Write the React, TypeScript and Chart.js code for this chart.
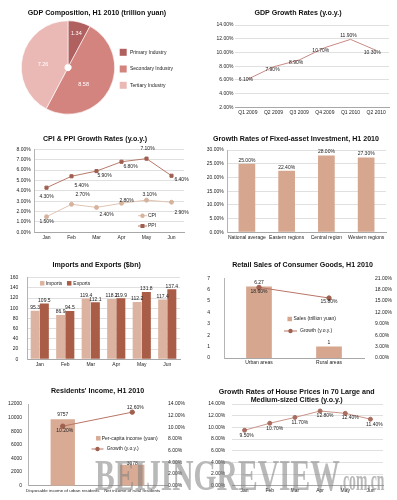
import React, { useEffect, useRef } from "react";
import { Chart, registerables } from "chart.js";

Chart.register(...registerables);

// ---------------- data ----------------
const gdpSectors = ["Primary Industry", "Secondary Industry", "Tertiary Industry"];
const gdpSectorValues = [1.34, 8.58, 7.26];

const gdpQuarters = ["Q1 2009", "Q2 2009", "Q3 2009", "Q4 2009", "Q1 2010", "Q2 2010"];
const gdpGrowth = [6.1, 7.9, 8.9, 10.7, 11.9, 10.3];

const months = ["Jan", "Feb", "Mar", "Apr", "May", "Jun"];
const cpiValues = [1.5, 2.7, 2.4, 2.8, 3.1, 2.9];
const ppiValues = [4.3, 5.4, 5.9, 6.8, 7.1, 5.45];
const ppiLabelValues = [4.3, 5.4, 5.9, 6.8, 7.1, 6.4];

const fixedRegions = ["National average", "Eastern regions", "Central region", "Western regions"];
const fixedGrowth = [25.0, 22.4, 28.0, 27.3];

const importValues = [95.3, 86.9, 119.4, 118.2, 112.2, 117.4];
const exportValues = [109.5, 94.5, 112.1, 119.9, 131.8, 137.4];

const retailAreas = ["Urban areas", "Rural areas"];
const retailSales = [6.27, 1];
const retailGrowth = [18.6, 15.8];

const incomeGroups = ["Disposable income of urban residents", "Net income of rural residents"];
const incomeValues = [9757, 3078];
const incomeGrowth = [10.2, 12.6];

const housePrices = [9.5, 10.7, 11.7, 12.8, 12.4, 11.4];

// ---------------- styling helpers ----------------
const FONT = "'Liberation Sans', Arial, Helvetica, sans-serif";
Chart.defaults.font.family = FONT;
Chart.defaults.font.size = 5;
Chart.defaults.color = "#222";

const TICK = { size: 5, family: FONT };
const pct2 = (v: number) => Number(v).toFixed(2) + "%";

type Area = { l: number; t: number; r: number; b: number };
function padFor(W: number, H: number, a: Area, yW: number, y2W: number, xH: number) {
  return { left: a.l - yW, top: a.t, right: W - a.r - y2W, bottom: H - a.b - xH };
}

function yAxis(o: any) {
  return {
    type: "linear",
    position: o.position || "left",
    min: o.min,
    max: o.max,
    ticks: {
      stepSize: o.step,
      autoSkip: false,
      padding: o.pad,
      font: TICK,
      color: "#222",
      callback: (v: any) => (o.fmt ? o.fmt(v) : String(v)),
    },
    grid: { display: !!o.grid, color: "#e0e0e0", lineWidth: 1, drawTicks: false },
    border: { display: !!o.border, color: "#b4b4b4", width: 1 },
    afterFit: (s: any) => {
      s.width = o.w;
    },
  };
}

function xAxis(xH: number, font: any = TICK) {
  return {
    type: "category",
    offset: true,
    grid: { display: false, drawTicks: false },
    border: { display: true, color: "#a8a8a8", width: 1 },
    ticks: { autoSkip: false, maxRotation: 0, minRotation: 0, padding: 2, font, color: "#222" },
    afterFit: (s: any) => {
      s.height = xH;
    },
  };
}

function base(padding: any) {
  return {
    responsive: false,
    maintainAspectRatio: false,
    animation: false,
    devicePixelRatio: 1,
    events: [],
    layout: { padding },
    plugins: { legend: { display: false }, tooltip: { enabled: false }, title: { display: false } },
  };
}

function titlePlugin(lines: string[], x: number, y: number, gap = 8.3, size = 7.1) {
  return {
    id: "panelTitle",
    afterDraw(chart: any) {
      const ctx = chart.ctx;
      ctx.save();
      ctx.font = `bold ${size}px ${FONT}`;
      ctx.fillStyle = "#111";
      ctx.textAlign = "center";
      ctx.textBaseline = "middle";
      lines.forEach((t, i) => ctx.fillText(t, x, y + i * gap));
      ctx.restore();
    },
  };
}

type LabelSpec = {
  dataset: number;
  texts: string[];
  offsets: number[][];
  color?: string;
  size?: number;
  arc?: number[];
};
function valueLabels(specs: LabelSpec[]) {
  return {
    id: "valueLabels",
    afterDatasetsDraw(chart: any) {
      const ctx = chart.ctx;
      ctx.save();
      ctx.textAlign = "center";
      ctx.textBaseline = "middle";
      specs.forEach((s) => {
        ctx.font = `${s.size || 5}px ${FONT}`;
        ctx.fillStyle = s.color || "#222";
        const meta = chart.getDatasetMeta(s.dataset);
        meta.data.forEach((el: any, i: number) => {
          let x = el.x;
          let y = el.y;
          if (s.arc) {
            const p = el.getProps(["startAngle", "endAngle", "outerRadius", "x", "y"], true);
            const a = (p.startAngle + p.endAngle) / 2;
            x = p.x + Math.cos(a) * p.outerRadius * s.arc[i];
            y = p.y + Math.sin(a) * p.outerRadius * s.arc[i];
          }
          const off = s.offsets[i] || s.offsets[0] || [0, 0];
          ctx.fillText(s.texts[i], x + off[0], y + off[1]);
        });
      });
      ctx.restore();
    },
  };
}

type LegItem = {
  kind: "box" | "line";
  color: string;
  mark?: string;
  markStyle?: "circle" | "rect";
  text: string;
  x: number;
  y: number;
  size: number;
  tx: number;
};
function legendPlugin(items: LegItem[]) {
  return {
    id: "panelLegend",
    afterDraw(chart: any) {
      const ctx = chart.ctx;
      ctx.save();
      ctx.font = `5px ${FONT}`;
      ctx.textBaseline = "middle";
      ctx.textAlign = "left";
      items.forEach((it) => {
        if (it.kind === "box") {
          ctx.fillStyle = it.color;
          ctx.fillRect(it.x - it.size / 2, it.y - it.size / 2, it.size, it.size);
        } else {
          ctx.strokeStyle = it.color;
          ctx.lineWidth = 1;
          ctx.beginPath();
          ctx.moveTo(it.x - it.size / 2, it.y);
          ctx.lineTo(it.x + it.size / 2, it.y);
          ctx.stroke();
          ctx.fillStyle = it.mark || it.color;
          if (it.markStyle === "rect") {
            ctx.fillRect(it.x - 2, it.y - 2, 4, 4);
          } else {
            ctx.beginPath();
            ctx.arc(it.x, it.y, 2.2, 0, Math.PI * 2);
            ctx.fill();
          }
        }
        ctx.fillStyle = "#222";
        ctx.fillText(it.text, it.tx, it.y);
      });
      ctx.restore();
    },
  };
}

// ---------------- colours ----------------
const PIE_COLORS = ["#b0605f", "#d4847f", "#eab9b6"];
const GDP_LINE = "#c98a84";
const CPI_LINE = "#e0c4b3";
const CPI_MARK = "#d6b39d";
const PPI_LINE = "#b97a6b";
const PPI_MARK = "#9f5f50";
const BAR_TAN = "#d6a68f";
const IMPORT_COLOR = "#dcb3a0";
const EXPORT_COLOR = "#a95c46";
const GROWTH_LINE = "#b87565";
const GROWTH_MARK = "#a06050";
const HOUSE_LINE = "#c9958a";
const HOUSE_MARK = "#a96c5f";

// ---------------- chart configs ----------------
const LW = 198;
const RW = 199;
const H = 125;

function gdpPie() {
  const padding = { left: 21, top: 20.5, right: LW - 115, bottom: H - 114.5 };
  return {
    type: "doughnut",
    data: {
      labels: gdpSectors,
      datasets: [
        { data: gdpSectorValues, backgroundColor: PIE_COLORS, borderColor: "#ffffff", borderWidth: 0.6 },
      ],
    },
    options: { ...base(padding), cutout: "7%" },
    plugins: [
      titlePlugin(["GDP Composition, H1 2010 (trillion yuan)"], 97, 13.5),
      valueLabels([
        {
          dataset: 0,
          texts: gdpSectorValues.map((v) => v.toFixed(2)),
          offsets: [[0, 0], [-5, 6], [0, 3.5]],
          arc: [0.74, 0.5, 0.55],
          color: "#ffffff",
          size: 5.5,
        },
      ]),
      legendPlugin(
        gdpSectors.map((t, i) => ({
          kind: "box" as const,
          color: PIE_COLORS[i],
          text: t,
          x: 123.2,
          y: [52.3, 69, 85.3][i],
          size: 7,
          tx: 130,
        }))
      ),
    ],
  };
}

function gdpGrowthChart() {
  const area = { l: 37, t: 25, r: 191, b: 107.3 };
  return {
    type: "line",
    data: {
      labels: gdpQuarters,
      datasets: [{ data: gdpGrowth, borderColor: GDP_LINE, borderWidth: 1, pointRadius: 0, tension: 0 }],
    },
    options: {
      ...base(padFor(RW, H, area, 37, 0, 12)),
      scales: {
        x: xAxis(12),
        y: yAxis({ min: 2, max: 14, step: 2, w: 37, pad: 1.5, fmt: pct2, grid: true }),
      },
    },
    plugins: [
      titlePlugin(["GDP Growth Rates (y.o.y.)"], 100, 13.5),
      valueLabels([
        {
          dataset: 0,
          texts: gdpGrowth.map(pct2),
          offsets: [[-2, 0], [-1, 3], [-3, 3], [-4, 2.5], [-2, -3.4], [-4, 2]],
        },
      ]),
    ],
  };
}

function cpiPpiChart() {
  const area = { l: 34, t: 24.3, r: 184, b: 107.3 };
  return {
    type: "line",
    data: {
      labels: months,
      datasets: [
        {
          label: "CPI",
          data: cpiValues,
          borderColor: CPI_LINE,
          borderWidth: 1,
          pointRadius: 2,
          pointStyle: "circle",
          pointBackgroundColor: CPI_MARK,
          pointBorderColor: CPI_MARK,
        },
        {
          label: "PPI",
          data: ppiValues,
          borderColor: PPI_LINE,
          borderWidth: 1,
          pointRadius: 2.2,
          pointStyle: "rect",
          pointBackgroundColor: PPI_MARK,
          pointBorderColor: PPI_MARK,
        },
      ],
    },
    options: {
      ...base(padFor(LW, H, area, 34, 0, 12)),
      scales: {
        x: xAxis(12),
        y: yAxis({ min: 0, max: 8, step: 1, w: 34, pad: 3.3, fmt: pct2, grid: true, border: true }),
      },
    },
    plugins: [
      titlePlugin(["CPI & PPI Growth Rates (y.o.y.)"], 95, 14.3),
      valueLabels([
        {
          dataset: 0,
          texts: cpiValues.map(pct2),
          offsets: [[0, 5], [11, -10], [10, 7], [5, -2.4], [3, -5.6], [10, 10]],
        },
        {
          dataset: 1,
          texts: ppiLabelValues.map(pct2),
          offsets: [[0, 9], [10, 9.6], [8, 4.3], [9, 5], [1, -10], [10, 3.7]],
        },
      ]),
      legendPlugin([
        { kind: "line", color: CPI_LINE, mark: CPI_MARK, markStyle: "circle", text: "CPI", x: 142.5, y: 90.7, size: 9, tx: 148 },
        { kind: "line", color: PPI_LINE, mark: PPI_MARK, markStyle: "rect", text: "PPI", x: 142.5, y: 101, size: 9, tx: 148 },
      ]),
    ],
  };
}

function fixedAssetChart() {
  const area = { l: 29, t: 25, r: 188, b: 107.3 };
  return {
    type: "bar",
    data: {
      labels: fixedRegions,
      datasets: [{ data: fixedGrowth, backgroundColor: BAR_TAN, barPercentage: 0.42, categoryPercentage: 1 }],
    },
    options: {
      ...base(padFor(RW, H, area, 29, 0, 12)),
      scales: {
        x: xAxis(12),
        y: yAxis({ min: 0, max: 30, step: 5, w: 29, pad: 3.3, fmt: pct2, grid: true, border: true }),
      },
    },
    plugins: [
      titlePlugin(["Growth Rates of Fixed-asset Investment, H1 2010"], 98, 14),
      valueLabels([{ dataset: 0, texts: fixedGrowth.map(pct2), offsets: [[0, -3.5]] }]),
    ],
  };
}

function tradeChart() {
  const area = { l: 27, t: 27.7, r: 180, b: 109.3 };
  return {
    type: "bar",
    data: {
      labels: months,
      datasets: [
        { label: "Imports", data: importValues, backgroundColor: IMPORT_COLOR, barPercentage: 0.98, categoryPercentage: 0.72 },
        { label: "Exports", data: exportValues, backgroundColor: EXPORT_COLOR, barPercentage: 0.98, categoryPercentage: 0.72 },
      ],
    },
    options: {
      ...base(padFor(LW, H, area, 27, 0, 12)),
      scales: {
        x: xAxis(12),
        y: yAxis({ min: 0, max: 160, step: 20, w: 27, pad: 8.7, grid: true, border: true }),
      },
    },
    plugins: [
      titlePlugin(["Imports and Exports ($bn)"], 96.7, 15),
      valueLabels([
        { dataset: 0, texts: importValues.map((v) => v.toFixed(1)), offsets: [[0, -3]] },
        { dataset: 1, texts: exportValues.map((v) => v.toFixed(1)), offsets: [[0, -3]] },
      ]),
      legendPlugin([
        { kind: "box", color: IMPORT_COLOR, text: "Imports", x: 42.2, y: 33.3, size: 4.5, tx: 45.7 },
        { kind: "box", color: EXPORT_COLOR, text: "Exports", x: 69.2, y: 33.3, size: 4.5, tx: 73.3 },
      ]),
    ],
  };
}

function retailChart() {
  const area = { l: 26, t: 28.3, r: 166, b: 109.3 };
  return {
    type: "bar",
    data: {
      labels: retailAreas,
      datasets: [
        {
          type: "bar",
          label: "Sales (trillion yuan)",
          data: retailSales,
          yAxisID: "y",
          backgroundColor: BAR_TAN,
          barPercentage: 0.367,
          categoryPercentage: 1,
          order: 1,
        },
        {
          type: "line",
          label: "Growth (y.o.y.)",
          data: retailGrowth,
          yAxisID: "y2",
          borderColor: GROWTH_LINE,
          borderWidth: 1,
          pointRadius: 2.2,
          pointBackgroundColor: GROWTH_MARK,
          pointBorderColor: GROWTH_MARK,
          order: 0,
        },
      ],
    },
    options: {
      ...base(padFor(RW, H, area, 26, 30, 12)),
      scales: {
        x: xAxis(12),
        y: yAxis({ min: 0, max: 7, step: 1, w: 26, pad: 14, border: true }),
        y2: yAxis({ min: 0, max: 21, step: 3, w: 30, pad: 11, fmt: pct2, position: "right" }),
      },
    },
    plugins: [
      titlePlugin(["Retail Sales of Consumer Goods, H1 2010"], 104.5, 15.3),
      valueLabels([
        { dataset: 0, texts: retailSales.map((v) => String(v)), offsets: [[0, -4.4], [0, -3.7]] },
        { dataset: 1, texts: retailGrowth.map(pct2), offsets: [[0, 4.2], [0, 4]] },
      ]),
      legendPlugin([
        { kind: "box", color: BAR_TAN, text: "Sales (trillion yuan)", x: 91.7, y: 69, size: 4.5, tx: 95.5 },
        { kind: "line", color: GROWTH_LINE, mark: GROWTH_MARK, text: "Growth (y.o.y.)", x: 92.5, y: 81, size: 13, tx: 102 },
      ]),
    ],
  };
}

function incomeChart() {
  const area = { l: 28, t: 29, r: 167, b: 110.7 };
  return {
    type: "bar",
    data: {
      labels: incomeGroups,
      datasets: [
        {
          type: "bar",
          label: "Per-capita income (yuan)",
          data: incomeValues,
          yAxisID: "y",
          backgroundColor: "#d9ab95",
          barPercentage: 0.35,
          categoryPercentage: 1,
          order: 1,
        },
        {
          type: "line",
          label: "Growth (y.o.y.)",
          data: incomeGrowth,
          yAxisID: "y2",
          borderColor: GROWTH_LINE,
          borderWidth: 1,
          pointRadius: 2.2,
          pointBackgroundColor: GROWTH_MARK,
          pointBorderColor: GROWTH_MARK,
          order: 0,
        },
      ],
    },
    options: {
      ...base(padFor(LW, H, area, 28, 20, 12)),
      scales: {
        x: xAxis(12, { size: 4.4, family: FONT }),
        y: yAxis({ min: 0, max: 12000, step: 2000, w: 28, pad: 6, border: true }),
        y2: yAxis({ min: 0, max: 14, step: 2, w: 20, pad: 1, fmt: pct2, position: "right" }),
      },
    },
    plugins: [
      titlePlugin(["Residents' Income, H1 2010"], 97.5, 15.7),
      valueLabels([
        { dataset: 0, texts: incomeValues.map((v) => String(v)), offsets: [[0, -5], [0, -1]] },
        { dataset: 1, texts: incomeGrowth.map(pct2), offsets: [[2, 4], [3, -4.5]] },
      ]),
      legendPlugin([
        { kind: "box", color: "#d9ab95", text: "Per-capita income (yuan)", x: 98.3, y: 63.3, size: 4.5, tx: 101.7 },
        { kind: "line", color: GROWTH_LINE, mark: GROWTH_MARK, text: "Growth (y.o.y.)", x: 97.5, y: 74, size: 12, tx: 106.7 },
      ]),
    ],
  };
}

function houseChart() {
  const area = { l: 34, t: 29, r: 185, b: 110.7 };
  return {
    type: "line",
    data: {
      labels: months,
      datasets: [
        {
          data: housePrices,
          borderColor: HOUSE_LINE,
          borderWidth: 1,
          pointRadius: 2,
          pointStyle: "circle",
          pointBackgroundColor: HOUSE_MARK,
          pointBorderColor: HOUSE_MARK,
        },
      ],
    },
    options: {
      ...base(padFor(RW, H, area, 34, 0, 12)),
      scales: {
        x: xAxis(12),
        y: yAxis({ min: 0, max: 14, step: 2, w: 34, pad: 6.7, fmt: pct2, grid: true }),
      },
    },
    plugins: [
      titlePlugin(["Growth Rates of House Prices in 70 Large and", "Medium-sized Cities (y.o.y.)"], 98.7, 16.7),
      valueLabels([
        { dataset: 0, texts: housePrices.map(pct2), offsets: [[2, 5], [5, 5], [5, 5.5], [5, 4.5], [5, 4], [4, 5.5]] },
      ]),
    ],
  };
}

// ---------------- components ----------------
function ChartPanel(props: { left: number; top: number; width: number; height: number; make: () => any }) {
  const ref = useRef<HTMLCanvasElement>(null);
  useEffect(() => {
    const chart = new Chart(ref.current as HTMLCanvasElement, props.make());
    return () => chart.destroy();
  }, []);
  return (
    <canvas
      ref={ref}
      width={props.width}
      height={props.height}
      style={{ position: "absolute", left: props.left, top: props.top, width: props.width, height: props.height }}
    />
  );
}

const PANELS = [
  { key: "pie", left: 0, top: 0, width: LW, make: gdpPie },
  { key: "gdp", left: 198, top: 0, width: RW, make: gdpGrowthChart },
  { key: "cpi", left: 0, top: 125, width: LW, make: cpiPpiChart },
  { key: "fixed", left: 198, top: 125, width: RW, make: fixedAssetChart },
  { key: "trade", left: 0, top: 250, width: LW, make: tradeChart },
  { key: "retail", left: 198, top: 250, width: RW, make: retailChart },
  { key: "income", left: 0, top: 375, width: LW, make: incomeChart },
  { key: "house", left: 198, top: 375, width: RW, make: houseChart },
];

export default function App() {
  return (
    <div
      style={{
        position: "absolute",
        left: 0,
        top: 0,
        width: 397,
        height: 500,
        overflow: "hidden",
        background: "#ffffff",
      }}
    >
      {PANELS.map((p) => (
        <ChartPanel key={p.key} left={p.left} top={p.top} width={p.width} height={H} make={p.make} />
      ))}
      <div
        style={{
          position: "absolute",
          left: 95,
          top: 454,
          whiteSpace: "nowrap",
          fontFamily: "'Liberation Serif', 'Times New Roman', serif",
          fontWeight: "bold",
          fontSize: 44,
          lineHeight: 1,
          color: "rgba(128,128,128,0.55)",
          transform: "scaleX(0.672)",
          transformOrigin: "0 0",
          pointerEvents: "none",
        }}
      >
        <span>BEIJINGREVIEW</span>
        <span
          style={{
            display: "inline-block",
            fontSize: 29,
            transform: "scaleX(0.7)",
            transformOrigin: "0 100%",
          }}
        >
          .com.cn
        </span>
      </div>
    </div>
  );
}
